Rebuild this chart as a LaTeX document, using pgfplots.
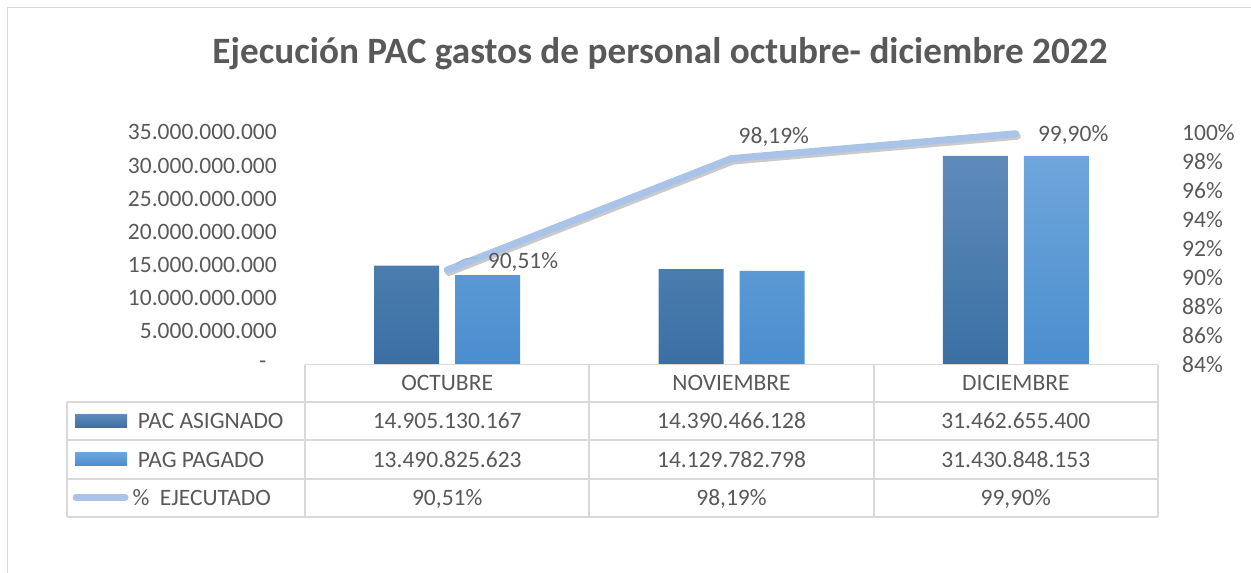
\documentclass[border=0pt]{standalone}
\usepackage{fontspec}
\setmainfont{Carlito}
\usepackage{pgfplots}
\pgfplotsset{compat=1.18}
\definecolor{txt}{HTML}{595959}
\definecolor{gridc}{HTML}{D9D9D9}
\definecolor{pacT}{HTML}{5E8BBA}
\definecolor{pacB}{HTML}{3B6FA4}
\definecolor{pagT}{HTML}{6FA6DB}
\definecolor{pagB}{HTML}{4A8ECF}
\definecolor{ejec}{HTML}{A9C4E8}
\begin{document}
\begin{tikzpicture}[font=\fontsize{23.5}{28}\selectfont, text=txt]
\useasboundingbox (0,0) rectangle (1251pt,-573pt);
\draw[gridc, line width=1.5pt] (7.5pt,-573pt) -- (7.5pt,-7.5pt) -- (1251pt,-7.5pt);
\node[anchor=base, inner sep=0pt, font=\fontsize{37.2}{44}\selectfont\bfseries] at (660pt,-63.3pt) {Ejecución PAC gastos de personal octubre- diciembre 2022};

\begin{axis}[
  scale only axis, width=853pt, height=232.2pt,
  at={(305pt,-364.5pt)}, anchor=south west,
  xmin=-0.5, xmax=2.5, ymin=0, ymax=35000000000,
  axis y line*=left, axis x line*=bottom, axis line style={draw=none},
  major tick length=0pt, scaled y ticks=false,
  xtick={0,1,2}, xticklabels={OCTUBRE,NOVIEMBRE,DICIEMBRE},
  xticklabel style={anchor=base, inner sep=0pt, yshift=-26.1pt, text=txt},
  ytick={0,5000000000,10000000000,15000000000,20000000000,25000000000,30000000000,35000000000},
  yticklabels={-\rule{10.5pt}{0pt},5.000.000.000,10.000.000.000,15.000.000.000,20.000.000.000,25.000.000.000,30.000.000.000,35.000.000.000},
  yticklabel style={anchor=east, inner sep=0pt, xshift=-28pt, text=txt},
]
\addplot[ybar, bar width=65pt, bar shift=-40.5pt, draw=none, top color=pacT, bottom color=pacB]
  coordinates {(0,14905130167) (1,14390466128) (2,31462655400)};
\addplot[ybar, bar width=65pt, bar shift=40.5pt, draw=none, top color=pagT, bottom color=pagB]
  coordinates {(0,13490825623) (1,14129782798) (2,31430848153)};
\end{axis}

\begin{axis}[
  scale only axis, width=853pt, height=232.2pt,
  at={(305pt,-364.5pt)}, anchor=south west,
  xmin=-0.5, xmax=2.5, ymin=84, ymax=100,
  hide x axis, axis y line*=right, axis line style={draw=none},
  major tick length=0pt, clip=false,
  ytick={84,86,88,90,92,94,96,98,100},
  yticklabels={84\%,86\%,88\%,90\%,92\%,94\%,96\%,98\%,100\%},
  yticklabel style={anchor=west, inner sep=0pt, xshift=24pt, text=txt},
]
\addplot[black!60, opacity=0.35, line width=7pt, line join=round, line cap=round,
  transform canvas={xshift=1.5pt, yshift=-2.5pt}]
  coordinates {(0,90.51) (1,98.19) (2,99.90)};
\addplot[ejec, line width=7pt, line join=round, line cap=round]
  coordinates {(0,90.51) (1,98.19) (2,99.90)};
\draw[ejec!80!gray, line width=1.3pt] (axis cs:0.032,90.9) .. controls (axis cs:0.06,91.3) .. (axis cs:0.108,91.35);
\addplot[draw=none, nodes near coords={90,51\%},
  every node near coord/.style={anchor=west, inner sep=0pt, xshift=40.5pt, yshift=8.3pt, text=txt}]
  coordinates {(0,90.51)};
\addplot[draw=none, nodes near coords={98,19\%},
  every node near coord/.style={anchor=west, inner sep=0pt, xshift=7pt, yshift=22pt, text=txt}]
  coordinates {(1,98.19)};
\addplot[draw=none, nodes near coords={99,90\%},
  every node near coord/.style={anchor=west, inner sep=0pt, xshift=22pt, yshift=-1.5pt, text=txt}]
  coordinates {(2,99.90)};
\end{axis}

% data table
\begin{scope}[gridc, line width=1.7pt]
\draw (305pt,-364.5pt) -- (1158pt,-364.5pt);
\foreach \y in {402,440,479,517} \draw (67pt,-\y pt) -- (1158pt,-\y pt);
\foreach \x in {305,589.3,873.7,1158} \draw (\x pt,-364.5pt) -- (\x pt,-517pt);
\draw (67pt,-402pt) -- (67pt,-517pt);
\end{scope}
\fill[top color=pacT, bottom color=pacB] (75pt,-414.3pt) rectangle (127pt,-427.7pt);
\fill[top color=pagT, bottom color=pagB] (75pt,-452.3pt) rectangle (127pt,-465.7pt);
\draw[ejec, line width=7pt, line cap=round] (76pt,-497.3pt) -- (125pt,-497.3pt);
\node[anchor=base west, inner sep=0pt] at (137.7pt,-428.5pt) {PAC ASIGNADO};
\node[anchor=base west, inner sep=0pt] at (137.7pt,-467.5pt) {PAG PAGADO};
\node[anchor=base west, inner sep=0pt] at (132.3pt,-505.5pt) {\%~~EJECUTADO};
\foreach \x/\a/\b/\c in {447.2/14.905.130.167/13.490.825.623/90{,}51\%,
                         731.5/14.390.466.128/14.129.782.798/98{,}19\%,
                         1015.8/31.462.655.400/31.430.848.153/99{,}90\%}{
  \node[anchor=base, inner sep=0pt] at (\x pt,-428.5pt) {\a};
  \node[anchor=base, inner sep=0pt] at (\x pt,-467.5pt) {\b};
  \node[anchor=base, inner sep=0pt] at (\x pt,-505.5pt) {\c};
}
\end{tikzpicture}
\end{document}
